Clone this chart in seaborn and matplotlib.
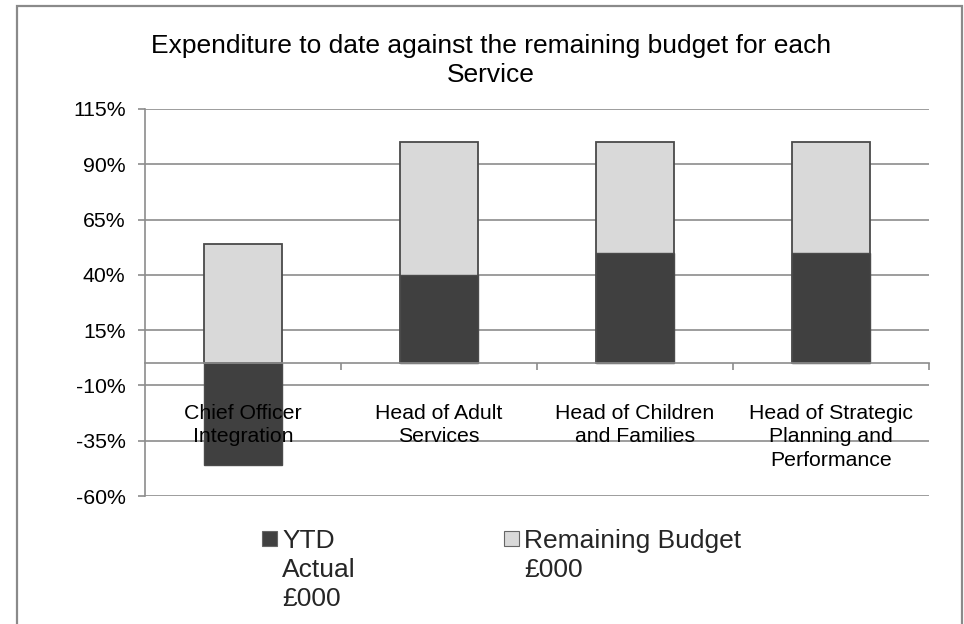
import numpy as np
import pandas as pd
import seaborn as sns
import matplotlib
matplotlib.use("Agg")
import matplotlib.pyplot as plt
from matplotlib.patches import Rectangle, Patch
from matplotlib.legend_handler import HandlerPatch
from matplotlib.ticker import FixedLocator, FuncFormatter

# ---- data ----
categories = ["Chief Officer\nIntegration", "Head of Adult\nServices",
              "Head of Children\nand Families", "Head of Strategic\nPlanning and\nPerformance"]
ytd_actual = [-46, 40, 50, 50]
remaining_budget = [54, 60, 50, 50]
series_names = ["YTD\nActual\n£000", "Remaining Budget\n£000\n "]
yticks = [-60, -35, -10, 15, 40, 65, 90, 115]
title = "Expenditure to date against the remaining budget for each\nService"

DARK = "#404040"
LIGHT = "#d9d9d9"
EDGE = "#4a4a4a"
GRID = "#8c8c8c"

sns.set_theme(style="white")
plt.rcParams["font.family"] = ["Liberation Sans", "DejaVu Sans"]

W, H = 964, 624
fig = plt.figure(figsize=(W / 100, H / 100), dpi=100)
ax = fig.add_axes([145 / W, 1 - 496 / H, (929 - 145) / W, (496 - 109) / H])

df = pd.DataFrame({
    "cat": categories,
    "ytd": ytd_actual,
    "rem": remaining_budget,
})
df["top"] = df["ytd"].clip(lower=0) + df["rem"]

sns.barplot(data=df, x="cat", y="top", color=LIGHT, edgecolor=EDGE, linewidth=1.3,
            width=0.4, saturation=1, ax=ax, zorder=3)
sns.barplot(data=df, x="cat", y="ytd", color=DARK, edgecolor=EDGE, linewidth=1.0,
            width=0.4, saturation=1, ax=ax, zorder=4)

ax.set_xlim(-0.5, len(categories) - 0.5)
ax.set_ylim(-60, 115)
ax.set_xlabel("")
ax.set_ylabel("")

# y axis
ax.yaxis.set_major_locator(FixedLocator(yticks))
ax.yaxis.set_major_formatter(FuncFormatter(lambda v, p: f"{int(v)}%"))
ax.grid(axis="y", color=GRID, linewidth=1.2, zorder=0)
ax.set_axisbelow(True)
ax.tick_params(axis="y", which="major", length=5, width=1.2, color=GRID, pad=9,
               labelsize=15.3, labelcolor="black", left=True)

# x axis at zero
for s in ["top", "right"]:
    ax.spines[s].set_visible(False)
ax.spines["left"].set_color(GRID)
ax.spines["left"].set_linewidth(1.2)
ax.spines["bottom"].set_position(("data", 0))
ax.spines["bottom"].set_color(GRID)
ax.spines["bottom"].set_linewidth(1.2)
ax.spines["bottom"].set_zorder(5)
ax.xaxis.set_minor_locator(FixedLocator(np.arange(0.5, len(categories), 1.0)))
ax.tick_params(axis="x", which="minor", length=5, width=1.2, color=GRID, bottom=True)
ax.tick_params(axis="x", which="major", length=0, pad=29, labelsize=15.3, labelcolor="black")
for lab in ax.get_xticklabels():
    lab.set_linespacing(1.3)
ax.xaxis.set_zorder(10)

# title
fig.text(491 / W, 1 - 34 / H, title, ha="center", va="top", fontsize=19,
         linespacing=1.28, color="black")

# legend with square handle at first line
LEG_FS = 19
LEG_LS = 1.26

def top_square(legend, orig_handle, xdescent, ydescent, width, height, fontsize):
    n = orig_handle.get_label().count("\n")
    size = 0.57 * fontsize
    L = fontsize * (0.21 + 0.72 * LEG_LS)
    y0 = 0.5 * n * L + 0.105 * fontsize + 0.06 * fontsize
    return Rectangle((-xdescent, y0), size, size)

handles = [Patch(facecolor=DARK, edgecolor="#666666", linewidth=0.8, label=series_names[0]),
           Patch(facecolor=LIGHT, edgecolor="#666666", linewidth=0.8, label=series_names[1])]
leg = fig.legend(handles=handles, loc="upper left", bbox_to_anchor=(262 / W, 1 - 529 / H),
                 ncol=2, frameon=False, fontsize=LEG_FS, handlelength=0.57, handleheight=0.7,
                 handletextpad=0.2, columnspacing=5.6, borderpad=0, borderaxespad=0,
                 handler_map={Patch: HandlerPatch(patch_func=top_square)})
for t in leg.get_texts():
    t.set_linespacing(LEG_LS)

# outer border
border = Rectangle((17 / W, -0.05), (962 - 17) / W, 1.05 - 6 / H, transform=fig.transFigure,
                   fill=False, edgecolor="#8a8a8a", linewidth=1.6)
fig.patches.append(border)

fig.savefig("out.png", dpi=100)
